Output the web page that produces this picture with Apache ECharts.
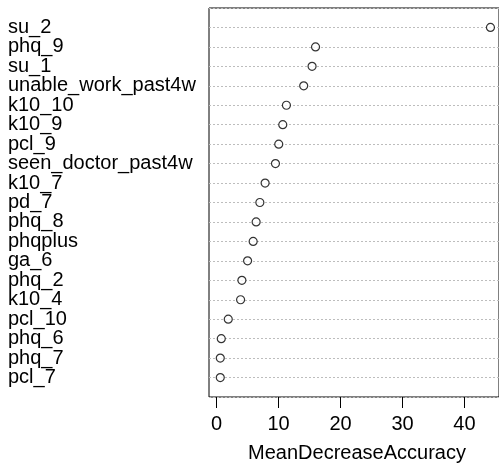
<!DOCTYPE html>
<html>
<head>
<meta charset="utf-8">
<script src="https://cdn.jsdelivr.net/npm/echarts@6/dist/echarts.min.js"></script>
<style>
html,body{margin:0;padding:0;background:#fff;}
#chart{width:499px;height:467px;}
</style>
</head>
<body>
<div id="chart"></div>
<script>
// Variables, top to bottom
var variables = ["su_2","phq_9","su_1","unable_work_past4w","k10_10","k10_9","pcl_9",
  "seen_doctor_past4w","k10_7","pd_7","phq_8","phqplus","ga_6","phq_2","k10_4",
  "pcl_10","phq_6","phq_7","pcl_7"];
// MeanDecreaseAccuracy values
var meanDecreaseAccuracy = [44.2,15.96,15.4,14.05,11.26,10.67,10.02,9.49,7.82,6.97,
  6.37,5.89,4.99,4.07,3.86,1.87,0.74,0.58,0.58];
var xTicks = [0,10,20,30,40];
var xTitle = "MeanDecreaseAccuracy";

var FONT = "'Liberation Sans', Arial, sans-serif";
var points = meanDecreaseAccuracy.map(function(v,i){ return [v, i+1]; });

var chart = echarts.init(document.getElementById('chart'), null, {renderer:'canvas'});
chart.setOption({
  animation:false,
  backgroundColor:'#fff',
  grid:{left:209, top:8, right:-1, bottom:70, show:true, borderColor:'#000', borderWidth:1, backgroundColor:'transparent'},
  xAxis:{
    type:'value', min:-1.24, max:45.58, position:'bottom',
    axisLine:{show:false, onZero:false},
    splitLine:{show:false},
    axisTick:{show:true, customValues:xTicks, length:11, lineStyle:{color:'#000', width:1}},
    axisLabel:{customValues:xTicks, margin:17, fontSize:20, color:'#000', fontFamily:FONT}
  },
  yAxis:{
    type:'value', inverse:true, min:0, max:20, interval:1,
    axisLine:{show:false, onZero:false},
    axisTick:{show:false},
    splitLine:{show:true, lineStyle:{color:'#bdbdbd', type:[2,2], width:1}},
    axisLabel:{
      align:'left', margin:201, fontSize:20, color:'#000', fontFamily:FONT,
      formatter:function(v){ return (v>=1 && v<=variables.length) ? variables[v-1] : ''; }
    }
  },
  graphic:[{
    type:'text', x:357, y:453,
    style:{text:xTitle, fontSize:20, fill:'#000', fontFamily:FONT, textAlign:'center', textVerticalAlign:'middle'}
  }],
  series:[{
    type:'scatter', data:points, symbol:'circle', symbolSize:8,
    itemStyle:{color:'#fff', borderColor:'#000', borderWidth:1.2}
  }]
});
</script>
</body>
</html>
